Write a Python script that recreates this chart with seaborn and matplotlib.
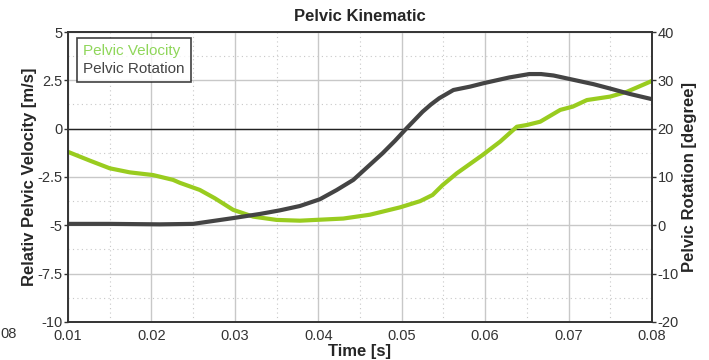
import numpy as np
import pandas as pd
import seaborn as sns
import matplotlib.pyplot as plt
from matplotlib.ticker import MultipleLocator

# Data
vel_time = [0.0100, 0.0126, 0.0150, 0.0174, 0.0202, 0.0226, 0.0234, 0.0258, 0.0276,
            0.0298, 0.0322, 0.0350, 0.0378, 0.0430, 0.0462, 0.0498, 0.0522, 0.0537,
            0.0549, 0.0566, 0.0597, 0.0618, 0.0638, 0.0650, 0.0666, 0.0690, 0.0705,
            0.0722, 0.0750, 0.0770, 0.0800]
vel_value = [-1.2, -1.65, -2.05, -2.26, -2.4, -2.65, -2.8, -3.17, -3.6,
             -4.2, -4.55, -4.72, -4.76, -4.65, -4.45, -4.07, -3.75, -3.43,
             -2.92, -2.31, -1.36, -0.67, 0.1, 0.19, 0.36, 0.97, 1.14,
             1.48, 1.66, 1.91, 2.47]

rot_time = [0.0100, 0.0150, 0.0210, 0.0250, 0.0298, 0.0330, 0.0354, 0.0378, 0.0402,
            0.0422, 0.0442, 0.0477, 0.0492, 0.0506, 0.0525, 0.0535, 0.0545, 0.0555,
            0.0562, 0.0582, 0.0598, 0.0629, 0.0653, 0.0667, 0.0682, 0.0706, 0.0730,
            0.0752, 0.0773, 0.0800]
rot_value = [0.3, 0.3, 0.2, 0.3, 1.5, 2.35, 3.1, 4.0, 5.4,
             7.3, 9.4, 14.9, 17.5, 20.1, 23.5, 25.0, 26.3, 27.3,
             28.0, 28.7, 29.4, 30.6, 31.3, 31.3, 31.0, 30.1, 29.2,
             28.2, 27.2, 26.1]

vel_df = pd.DataFrame({'time': vel_time, 'value': vel_value})
rot_df = pd.DataFrame({'time': rot_time, 'value': rot_value})

green = '#99cc1f'
dark = '#444444'

sns.set_style("white")
plt.rcParams['font.family'] = ['Liberation Sans', 'DejaVu Sans']
plt.rcParams['axes.unicode_minus'] = False

fig = plt.figure(figsize=(7.09, 3.6), dpi=100)
ax = fig.add_axes([0.0959, 0.1056, 0.8237, 0.8055])
ax2 = ax.twinx()

# grid: solid major, dotted minor
ax.set_axisbelow(True)
ax.xaxis.set_major_locator(MultipleLocator(0.01))
ax.xaxis.set_minor_locator(MultipleLocator(0.005))
ax.yaxis.set_major_locator(MultipleLocator(2.5))
ax.yaxis.set_minor_locator(MultipleLocator(1.25))
ax.grid(which='major', color='#c8c8c8', linewidth=1, linestyle='-')
ax.grid(which='minor', color='#c8c8c8', linewidth=0.8, linestyle=(0, (1, 3)))
ax.axhline(0, color='#222222', linewidth=1, zorder=1)

sns.lineplot(data=vel_df, x='time', y='value', ax=ax, color=green, linewidth=3)
sns.lineplot(data=rot_df, x='time', y='value', ax=ax2, color=dark, linewidth=3)

ax.set_xlim(0.01, 0.08)
ax.set_ylim(-10, 5)
ax2.set_ylim(-20, 40)
ax2.yaxis.set_major_locator(MultipleLocator(10))

ax.set_xticks([0.01, 0.02, 0.03, 0.04, 0.05, 0.06, 0.07, 0.08])
ax.set_xticklabels(['0.01', '0.02', '0.03', '0.04', '0.05', '0.06', '0.07', '0.08'])
ax.set_yticks([-10, -7.5, -5, -2.5, 0, 2.5, 5])
ax.set_yticklabels(['-10', '-7.5', '-5', '-2.5', '0', '2.5', '5'])

for a in (ax, ax2):
    for s in a.spines.values():
        s.set_color('#333333')
        s.set_linewidth(1.2)
    a.tick_params(which='major', length=3, width=1, color='#333333',
                  labelsize=10.5, labelcolor='#333333', pad=1)
    a.tick_params(which='minor', length=0)
ax.tick_params(axis='x', pad=2)

ax.set_xlabel('Time [s]', fontsize=12, fontweight='bold', labelpad=1)
ax.set_ylabel('Relativ Pelvic Velocity [m/s]', fontsize=12, fontweight='bold', labelpad=0)
ax2.set_ylabel('Pelvic Rotation [degree]', fontsize=12, fontweight='bold', labelpad=2)
ax.set_title('Pelvic Kinematic', fontsize=12, fontweight='bold', pad=8)

# legend with coloured text, no handles
leg = ax2.legend(handles=[plt.Line2D([], [], color=green), plt.Line2D([], [], color=dark)],
                 labels=['Pelvic Velocity', 'Pelvic Rotation'],
                 loc='upper left', bbox_to_anchor=(0.0154, 0.979), borderaxespad=0,
                 handlelength=0, handletextpad=0,
                 fontsize=11, frameon=True, fancybox=False, borderpad=0.4, labelspacing=0.25)
leg.get_frame().set_edgecolor('#111111')
leg.get_frame().set_linewidth(1.2)
for txt, c in zip(leg.get_texts(), ['#8fd65a', '#444444']):
    txt.set_color(c)
for h in leg.legend_handles:
    h.set_visible(False)

fig.text(0.001, 0.062, '08', fontsize=10.5, color='#333333')

fig.savefig('out.png', dpi=100)
